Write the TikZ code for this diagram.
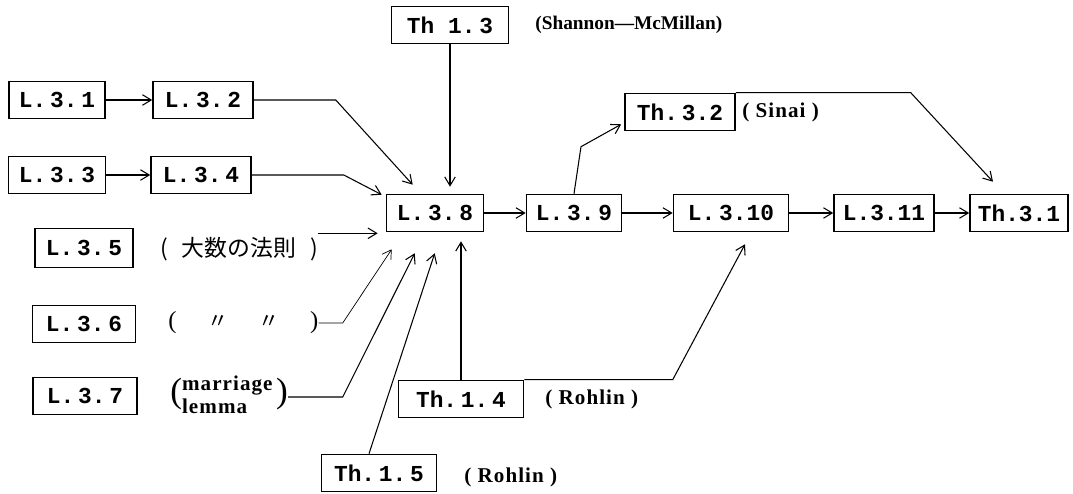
\documentclass[tikz,border=0pt]{standalone}
\usepackage{fontspec}
\setmainfont{Liberation Serif}
\newfontfamily\boxfont{Liberation Mono}
\newfontfamily\labfont{Liberation Serif}
\newfontfamily\labwide{Liberation Serif}[LetterSpace=5]
\newfontfamily\cjk{Noto Sans CJK JP}
\usetikzlibrary{arrows.meta,calc}

\tikzset{
  lbox/.style={draw, line width=0.9pt, minimum width=1.96cm, minimum height=0.74cm,
    inner sep=1pt, font=\boxfont\bfseries\fontsize{13}{15}\selectfont},
  lab/.style={anchor=west, inner sep=0pt, font=\labwide\bfseries\fontsize{12}{14}\selectfont},
  arr/.style={line width=0.6pt, -{Straight Barb[length=5pt,width=6pt]}},
}

\begin{document}
\begin{tikzpicture}[x=0.02cm,y=-0.02cm]
    \useasboundingbox (0,0) rectangle (1073,494);

    % Lemmas
    \node[lbox, minimum width=1.92cm] (l31) at (57,100) {L.\,3.\,1};
    \node[lbox, minimum width=2.0cm] (l32) at (203,100) {L.\,3.\,2};
    \node[lbox, minimum width=1.94cm] (l33) at (57,175) {L.\,3.\,3};
    \node[lbox, minimum width=2.0cm] (l34) at (201,175) {L.\,3.\,4};
    \node[lbox, minimum height=0.78cm] (l35) at (84,248) {L.\,3.\,5};
    \node[lbox, minimum width=2.06cm] (l36) at (84,324) {L.\,3.\,6};
    \node[lbox, minimum width=2.08cm] (l37) at (85,396) {L.\,3.\,7};
    \node[lbox, minimum width=1.94cm] (l38) at (435,213) {L.\,3.\,8};
    \node[lbox, minimum width=1.9cm] (l39) at (574,213) {L.\,3.\,9};
    \node[lbox, minimum width=2.3cm] (l310) at (731,213) {L.\,3.10};
    \node[lbox, minimum width=2.0cm] (l311) at (884,213) {L.3.11};

    % Theorems
    \node[lbox] (th31) at (1019,213) {Th.3.1};
    \node[lbox, minimum width=2.2cm] (th32) at (680,112) {Th.\,3.2};
    \node[lbox, minimum width=2.34cm] (th13) at (450,25) {Th 1.\,3};
    \node[lbox, minimum width=2.5cm] (th14) at (461,399) {Th.\,1.\,4};
    \node[lbox, minimum width=2.3cm] (th15) at (379,473) {Th.\,1.\,5};

    % Remarks
    \node[lab, font=\labfont\bfseries\fontsize{11}{13}\selectfont] (shannon) at (535,25) {(Shannon—McMillan)};
    \node[lab] (sinai) at (742,112) {( Sinai )};
    \node[lab] (rohlin4) at (545,399) {( Rohlin )};
    \node[lab] (rohlin5) at (464,477) {( Rohlin )};
    \node[lab, font=\cjk\fontsize{13}{15}\selectfont] (lab5) at (160,249) {\makebox[3.15cm][s]{( 大数の法則 )}};
    \node[lab, font=\labfont\fontsize{14}{16}\selectfont] (lab6) at (168,323) {\makebox[3.0cm][s]{( {\cjk\fontsize{12}{14}\selectfont 〃} {\cjk\fontsize{12}{14}\selectfont 〃} )}};
    \node[lab] (lab7) at (170,397) {{\labfont\mdseries\fontsize{20}{20}\selectfont(}\begin{tabular}[c]{@{}l@{}}marriage\\[-1pt]lemma\end{tabular}\,{\labfont\mdseries\fontsize{20}{20}\selectfont)}};

    % Bends and arrow tips
    \coordinate (kx) at ($(l38.west)+(-43,0)$);
    \coordinate (b32) at ($(l32.east)+(82,0)$);
    \coordinate (t32) at ($(l38.north west)+(27,-9)$);
    \coordinate (b34) at ($(l34.east)+(92,0)$);
    \coordinate (t34) at ($(l38.north west)+(-4,1)$);
    \coordinate (t35) at ($(l38.south west)+(-8,1)$);
    \coordinate (t36) at ($(l38.south west)+(6,17)$);
    \coordinate (t37) at ($(l38.south west)+(29,21)$);
    \coordinate (t15) at ($(l38.south west)+(49,21)$);
    \coordinate (t14) at ($(l38.south)+(0,9)$);
    \coordinate (t13) at ($(l38.north)+(0,-7)$);
    \coordinate (b14) at (th14.north east -| l310.south west);
    \coordinate (t310) at ($(l310.south)+(14,12)$);
    \coordinate (b39) at ($(l39.north)+(7,-47)$);
    \coordinate (tsinai) at ($(th32.south west)+(-3,-7)$);
    \coordinate (b31) at ($(th32.north east)+(175,0)$);
    \coordinate (t31) at ($(th31.north)+(-26,-12)$);

    % Connectors
    \draw[arr] (l31) -- (l32);
    \draw[arr] (l33) -- (l34);
    \draw[arr] (l32.east) -- (b32) -- (t32);
    \draw[arr] (l34.east) -- (b34) -- (t34);
    \draw[arr] (lab5.east |- t35) -- (t35);
    \draw[arr, line width=0.4pt] (lab6.east) -- (lab6.east -| kx) -- (t36);
    \draw[arr] (lab7.east) -- (lab7.east -| kx) -- (t37);
    \draw[arr] ($(th15.north)+(-10,0)$) -- (t15);
    \draw[arr] (th14.north) -- (th14.north |- t14);
    \draw[arr] (th14.north east) -- (b14) -- (t310);
    \draw[arr] (th13.south) -- (th13.south |- t13);
    \draw[arr] (l38) -- (l39);
    \draw[arr] (l39) -- (l310);
    \draw[arr] (l310) -- (l311);
    \draw[arr] (l311) -- (th31);
    \draw[arr] (l39.north) -- (b39) -- (tsinai);
    \draw[arr] (th32.north east) -- (b31) -- (t31);
\end{tikzpicture}
\end{document}
